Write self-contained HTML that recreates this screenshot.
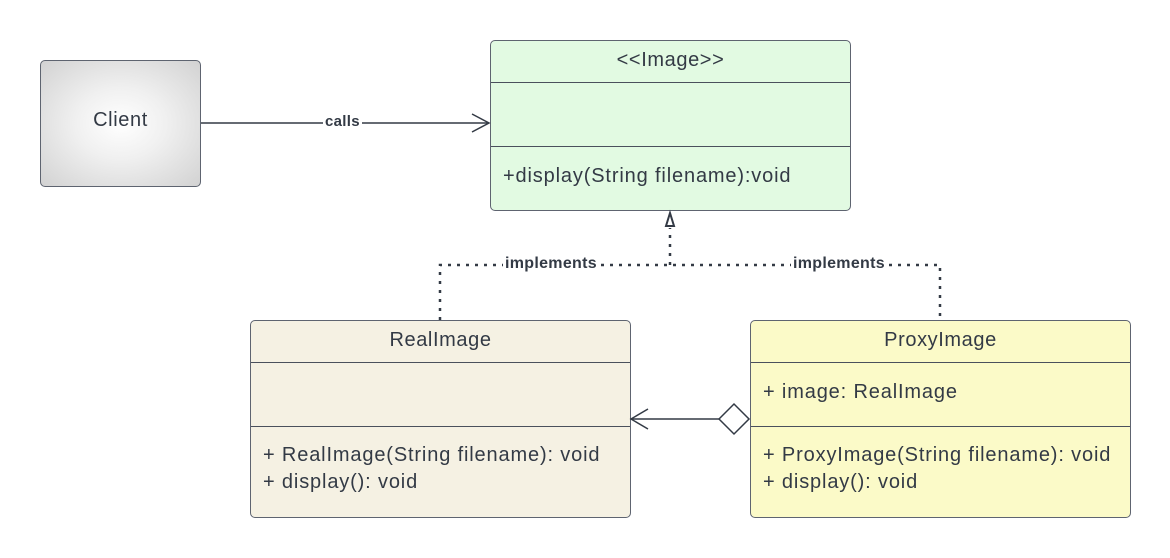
<!DOCTYPE html>
<html><head><style>
body{margin:0;width:1170px;height:558px;background:#fff;position:relative;font-family:"Liberation Sans",sans-serif;color:#333a45;overflow:hidden}
.b{position:absolute;border:1px solid #5e6470;border-radius:5px;box-sizing:border-box}
.t{position:absolute;left:0;right:0;text-align:center;font-size:20px;letter-spacing:0.6px}
.l{position:absolute;left:0;right:0;border-top:1px solid #4a505c}
.m{position:absolute;left:12px;font-size:20px;line-height:27px;letter-spacing:0.85px;white-space:nowrap}
.lb{position:absolute;background:#fff;font-weight:bold;padding:0 2px;letter-spacing:0.3px}
</style></head><body>
<div class="b" style="left:40px;top:60px;width:161px;height:127px;background:radial-gradient(ellipse at center,#fff 0%,#f0f0f0 40%,#d2d2d2 100%)">
<div class="t" style="top:48px">Client</div></div>
<div class="b" style="left:490px;top:40px;width:361px;height:171px;background:#e2fae2">
<div class="t" style="top:8px">&lt;&lt;Image&gt;&gt;</div>
<div class="l" style="top:41px"></div><div class="l" style="top:105px"></div>
<div class="m" style="top:122px">+display(String filename):void</div></div>
<div class="b" style="left:250px;top:320px;width:381px;height:198px;background:#f5f1e3">
<div class="t" style="top:8px">RealImage</div>
<div class="l" style="top:41px"></div><div class="l" style="top:105px"></div>
<div class="m" style="top:121px">+ RealImage(String filename): void<br>+ display(): void</div></div>
<div class="b" style="left:750px;top:320px;width:381px;height:198px;background:#fbfac8">
<div class="t" style="top:8px">ProxyImage</div>
<div class="l" style="top:41px"></div><div class="l" style="top:105px"></div>
<div class="m" style="top:58px">+ image: RealImage</div>
<div class="m" style="top:121px">+ ProxyImage(String filename): void<br>+ display(): void</div></div>
<svg width="1170" height="558" style="position:absolute;left:0;top:0" fill="none" stroke="#333a45">
<line x1="201" y1="123" x2="489" y2="123" stroke-width="1.5"/>
<polyline points="472,114 489,123 472,132" stroke-width="1.5"/>
<path d="M440,320 V265 H940 V320" stroke-width="2.5" stroke-dasharray="3,6"/>
<path d="M670,265 V228" stroke-width="2.5" stroke-dasharray="3,6"/>
<polygon points="670,213 666,226 674,226" stroke-width="2" fill="#fff"/>
<line x1="631" y1="419" x2="719" y2="419" stroke-width="1.5"/>
<polyline points="648,409 631,419 648,429" stroke-width="1.5"/>
<polygon points="719,419 734,404 749,419 734,434" stroke-width="1.5" fill="#fff"/>
</svg>
<div class="lb" style="left:323px;top:113px;font-size:15px">calls</div>
<div class="lb" style="left:503px;top:255px;font-size:16px">implements</div>
<div class="lb" style="left:791px;top:255px;font-size:16px">implements</div>
</body></html>
